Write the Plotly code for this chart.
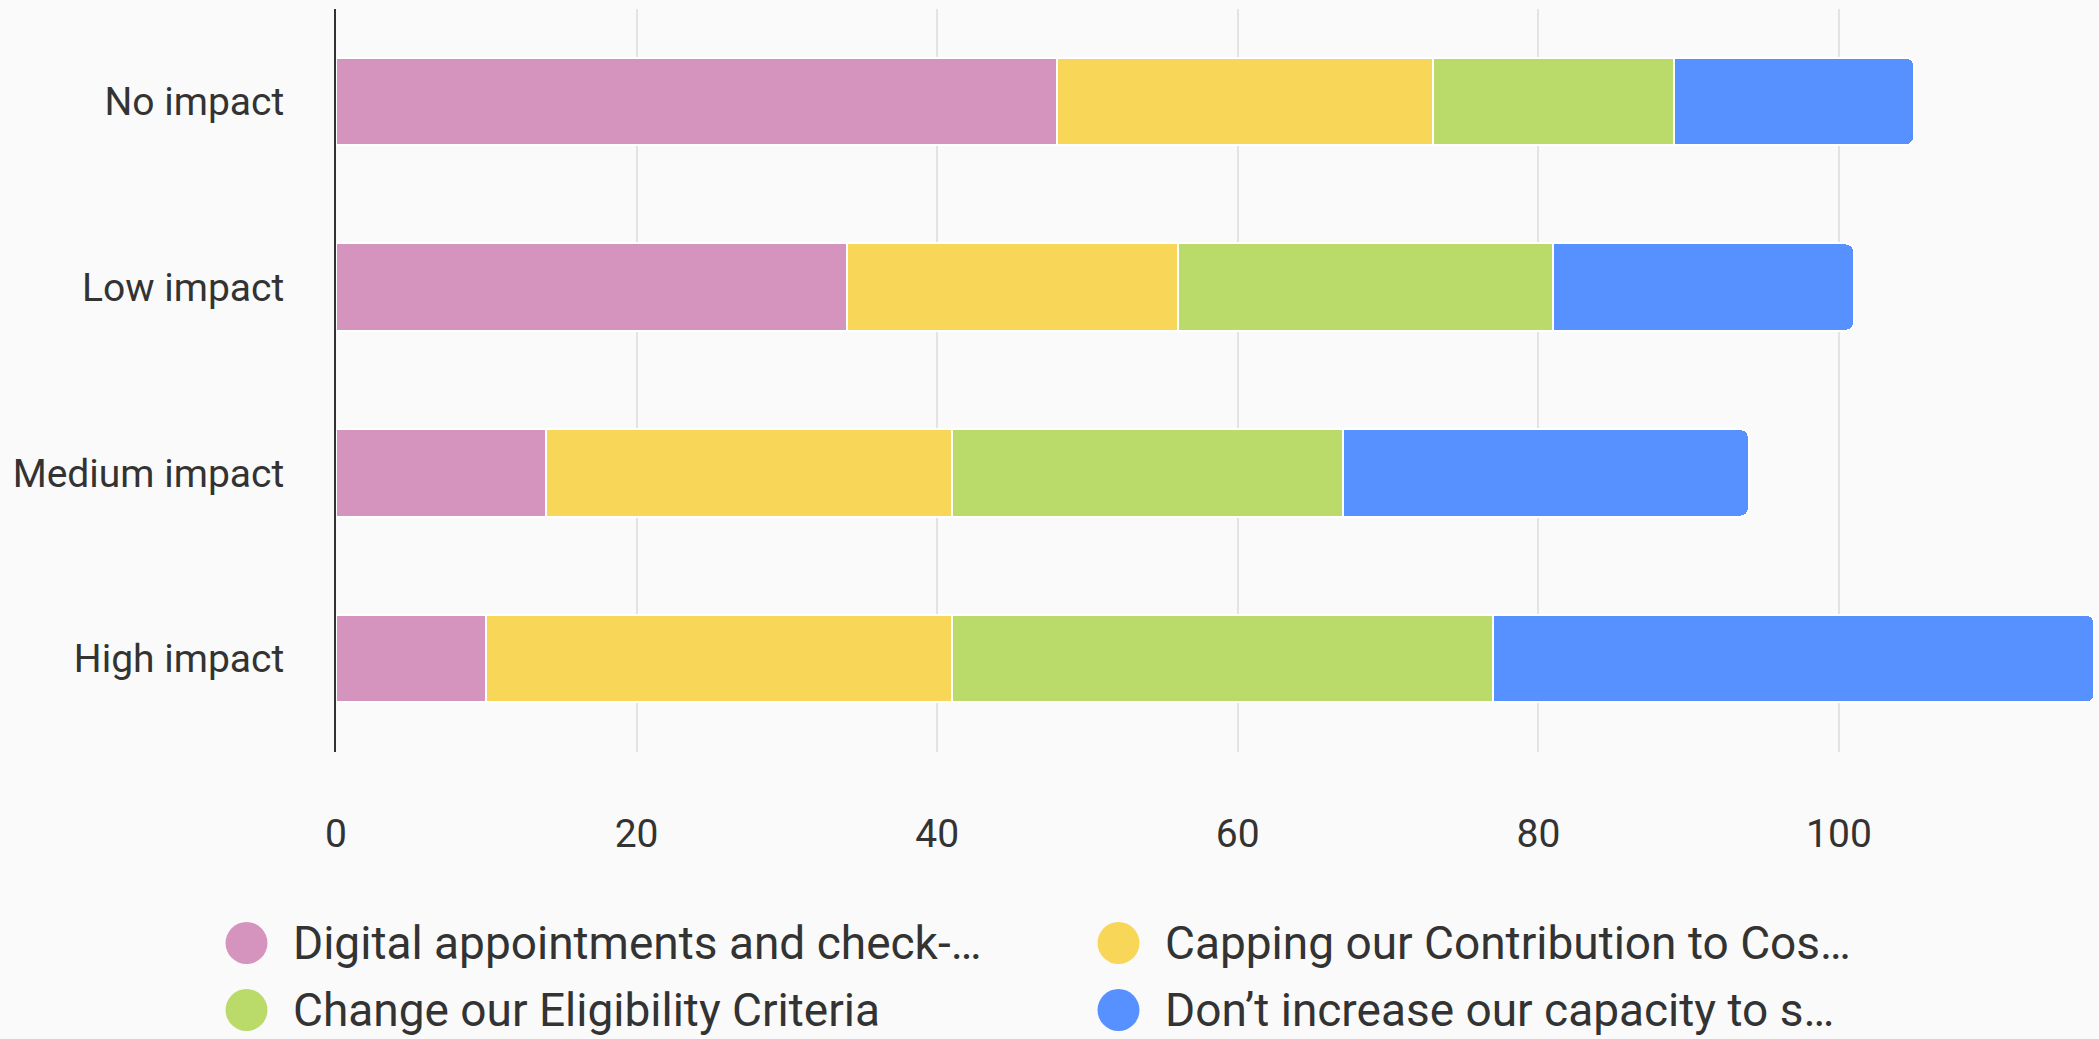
import plotly.graph_objects as go

# ---- data ----
categories = ["No impact", "Low impact", "Medium impact", "High impact"]
series_names = [
    "Digital appointments and check-…",
    "Capping our Contribution to Cos…",
    "Change our Eligibility Criteria",
    "Don’t increase our capacity to s…",
]
digital_vals = [48, 34, 14, 10]
capping_vals = [25, 22, 27, 31]
eligibility_vals = [16, 25, 26, 36]
capacity_vals = [16, 20, 27, 40]
x_tick_vals = [0, 20, 40, 60, 80, 100]

series_values = [digital_vals, capping_vals, eligibility_vals, capacity_vals]
colors = ["#d594be", "#f7d658", "#badb69", "#5790ff"]

W, H = 2099, 1039
TEXT = "#333333"
FONT = "Roboto"

fig = go.Figure()
for name, vals, col in zip(series_names, series_values, colors):
    fig.add_trace(go.Bar(
        y=categories, x=vals, name=name, orientation="h",
        marker=dict(color=col, line=dict(color="#ffffff", width=2)),
        showlegend=False,
    ))

# custom legend (large circle markers) on an auxiliary axis pair
leg_col = [0, 1, 0, 1]
leg_row = [0, 0, 1, 1]
fig.add_trace(go.Scatter(
    x=leg_col, y=leg_row, mode="markers",
    marker=dict(size=42, color=colors, symbol="circle", line=dict(width=0)),
    xaxis="x2", yaxis="y2", showlegend=False, hoverinfo="skip",
    cliponaxis=False,
))
annotations = []
for name, cx, ry in zip(series_names, leg_col, leg_row):
    annotations.append(dict(
        x=cx, y=ry, xref="x2", yref="y2", text=name, showarrow=False,
        xanchor="left", yanchor="middle", xshift=44,
        font=dict(family=FONT, size=46, color=TEXT),
    ))

fig.update_layout(
    width=W, height=H,
    margin=dict(l=0, r=0, t=0, b=0, autoexpand=False),
    paper_bgcolor="#fafafa", plot_bgcolor="#fafafa",
    barmode="stack", bargap=0.53, barcornerradius=8,
    font=dict(family=FONT, size=39, color=TEXT),
    xaxis=dict(
        domain=[336 / W, 1], range=[0, 117.3], automargin=False,
        tickvals=x_tick_vals, showgrid=True, gridcolor="#e3e3e3", gridwidth=2,
        zeroline=False, showline=False, ticks="",
        ticklabelstandoff=55,
        tickfont=dict(family=FONT, size=39, color=TEXT),
        fixedrange=True,
    ),
    yaxis=dict(
        domain=[1 - 751.5 / H, 1 - 8.5 / H], automargin=False,
        categoryorder="array", categoryarray=categories, autorange="reversed",
        showline=True, linecolor="#333333", linewidth=2,
        showgrid=False, zeroline=False, ticks="",
        ticklabelstandoff=42,
        tickfont=dict(family=FONT, size=39, color=TEXT),
        fixedrange=True,
    ),
    xaxis2=dict(
        domain=[246.5 / W, 1118.5 / W], range=[0, 1], anchor="y2",
        visible=False, fixedrange=True, automargin=False,
    ),
    yaxis2=dict(
        domain=[1 - 1010 / H, 1 - 943 / H], range=[1, 0], anchor="x2",
        visible=False, fixedrange=True, automargin=False,
    ),
    annotations=annotations,
    hovermode=False,
)

post = (
    "document.documentElement.style.margin='0';"
    "document.documentElement.style.padding='0';"
    "document.body.style.margin='0';document.body.style.padding='0';"
    "document.body.style.overflow='hidden';"
    "var d=document.getElementById('{plot_id}');"
    "d.style.position='fixed';d.style.left='0px';d.style.top='0px';"
)
fig.write_html("out.html", config={"displayModeBar": False}, post_script=post)
